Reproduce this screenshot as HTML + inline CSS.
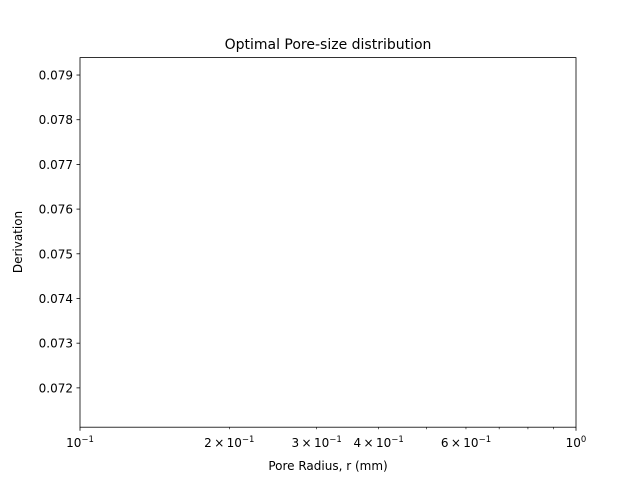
<!DOCTYPE html>
<html><head><meta charset="utf-8"><style>
body{margin:0;background:#fff}
svg{display:block;font-family:"DejaVu Sans","Liberation Sans",sans-serif}
</style></head><body>
<svg id="chart" width="640" height="480" viewBox="0 0 640 480">
<rect width="640" height="480" fill="#fff"/>
<text x="328" y="49" font-size="14" text-anchor="middle">Optimal Pore-size distribution</text>
<g id="ax"></g>
<rect x="80" y="57.6" width="496" height="369.6" fill="none" stroke="#000" stroke-width="0.8"/>
<text x="328" y="470" font-size="12" text-anchor="middle">Pore Radius, r (mm)</text>
<text transform="translate(22,242) rotate(-90)" font-size="12" text-anchor="middle">Derivation</text>
</svg>
<script>
const yTicks=[0.072,0.073,0.074,0.075,0.076,0.077,0.078,0.079];
const xMajor=[0.1,1];
const xMajorLabels=[["10","−1"],["10","0"]];
const xMinor=[0.2,0.3,0.4,0.5,0.6,0.7,0.8,0.9];
const xMinorLabels={0.2:"2",0.3:"3",0.4:"4",0.6:"6"};
const yMin=0.07112,yMax=0.07939,xMin=0.1,xMax=1;
const L=80,R=576,T=57.6,B=427.2;
const X=v=>L+(R-L)*(Math.log10(v)-Math.log10(xMin))/(Math.log10(xMax)-Math.log10(xMin));
const Y=v=>B-(B-T)*(v-yMin)/(yMax-yMin);
const g=document.getElementById('ax');const NS='http://www.w3.org/2000/svg';
function mk(t,a){const e=document.createElementNS(NS,t);for(const k in a)e.setAttribute(k,a[k]);g.appendChild(e);return e;}
yTicks.forEach(v=>{const y=Y(v);
const l=mk('line',{x1:L-3.5,x2:L,y1:y,y2:y,stroke:'#000','stroke-width':0.8});


const t=mk('text',{x:L-7,y:y+4.5,'font-size':12,'text-anchor':'end'});t.textContent=v.toFixed(3);

});
xMajor.forEach((v,i)=>{const x=X(v);
const l=mk('line',{x1:x,x2:x,y1:B,y2:B+3.5,stroke:'#000','stroke-width':0.8});


const t=mk('text',{x:x,y:B+20,'font-size':12,'text-anchor':'middle'});


t.innerHTML=xMajorLabels[i][0]+'<tspan dy="-5" font-size="8.5">'+xMajorLabels[i][1]+'</tspan>';});
xMinor.forEach(v=>{const x=X(v);
const l=mk('line',{x1:x,x2:x,y1:B,y2:B+2,stroke:'#000','stroke-width':0.6});


if(xMinorLabels[v]){const t=mk('text',{x:x,y:B+20,'font-size':12,'text-anchor':'middle'});


t.innerHTML=xMinorLabels[v]+'\u2009×\u200910<tspan dy="-5" font-size="8.5">−1</tspan>';}});
</script>
</body></html>
